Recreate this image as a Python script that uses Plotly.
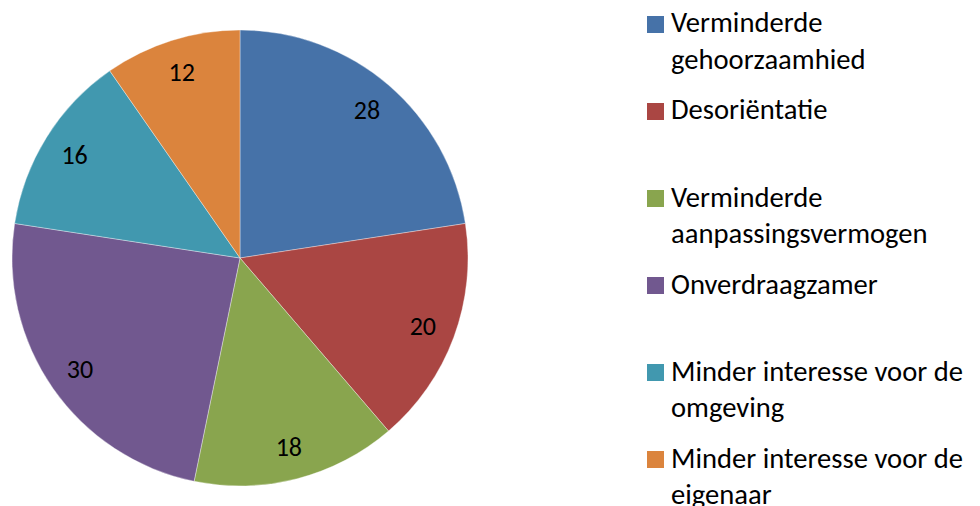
import plotly.graph_objects as go

categories = [
    "Verminderde gehoorzaamhied",
    "Desoriëntatie",
    "Verminderde aanpassingsvermogen",
    "Onverdraagzamer",
    "Minder interesse voor de omgeving",
    "Minder interesse voor de eigenaar",
]
legend_lines = [
    ["Verminderde", "gehoorzaamhied"],
    ["Desoriëntatie"],
    ["Verminderde", "aanpassingsvermogen"],
    ["Onverdraagzamer"],
    ["Minder interesse voor de", "omgeving"],
    ["Minder interesse voor de", "eigenaar"],
]
values = [28, 20, 18, 30, 16, 12]
colors = ["#4672A8", "#AA4643", "#89A54E", "#71588F", "#4198AF", "#DB843D"]

W, H = 980, 506
FONT = "Calibri, Carlito, Lato, sans-serif"
DOMAIN = dict(x=[12 / W, 468 / W], y=[20 / H, 476 / H])

fig = go.Figure()
# slices
fig.add_trace(go.Pie(
    labels=categories,
    values=values,
    sort=False,
    direction="clockwise",
    rotation=0,
    marker=dict(colors=colors, line=dict(color="rgba(255,255,255,0.6)", width=0.6)),
    textinfo="none",
    domain=DOMAIN,
    showlegend=False,
    hoverinfo="label+value",
))
# data labels placed near the rim (Excel style) via a transparent ring
fig.add_trace(go.Pie(
    labels=categories,
    values=values,
    sort=False,
    direction="clockwise",
    rotation=0,
    hole=0.71,
    marker=dict(colors=["rgba(0,0,0,0)"] * len(values), line=dict(width=0)),
    textinfo="value",
    textposition="inside",
    insidetextorientation="horizontal",
    textfont=dict(family=FONT, size=26, color="#000000"),
    domain=DOMAIN,
    showlegend=False,
    hoverinfo="skip",
))

# custom legend (Excel-like)
shapes = []
annotations = []
sq = 17
step = 87
first_center = 24.5
for i, (lines, col) in enumerate(zip(legend_lines, colors)):
    cy = first_center + i * step
    shapes.append(dict(
        type="rect", xref="paper", yref="paper",
        x0=647 / W, x1=664 / W,
        y0=1 - (cy + sq / 2) / H, y1=1 - (cy - sq / 2) / H,
        fillcolor=col, line=dict(width=0),
    ))
    for j, txt in enumerate(lines):
        ly = cy - 1.5 + j * 36.7
        annotations.append(dict(
            text=txt, xref="paper", yref="paper",
            x=669 / W, y=1 - ly / H, xanchor="left", yanchor="middle",
            showarrow=False, font=dict(family=FONT, size=28.6, color="#000000"),
        ))

fig.update_layout(
    width=W, height=H,
    margin=dict(l=0, r=0, t=0, b=0),
    paper_bgcolor="white", plot_bgcolor="white",
    shapes=shapes, annotations=annotations,
)

fig.write_html(
    "out.html",
    config={"displayModeBar": False},
    post_script="document.body.style.margin='0';",
)
